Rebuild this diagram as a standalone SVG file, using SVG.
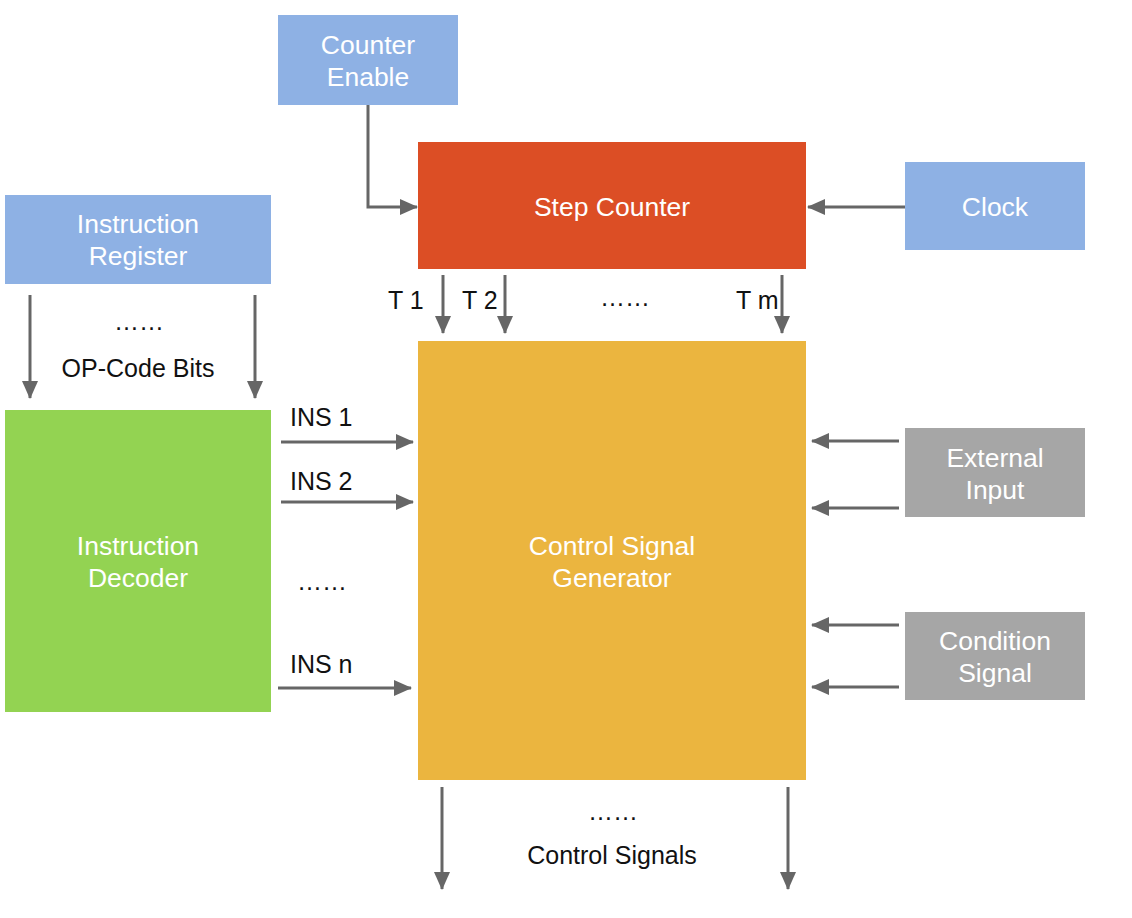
<svg xmlns="http://www.w3.org/2000/svg" width="1132" height="918" viewBox="0 0 1132 918">
<style>
.lbl{font-family:"Liberation Sans",Arial,sans-serif;font-size:26.5px;fill:#fff;text-anchor:middle}
.txt{font-family:"Liberation Sans",Arial,sans-serif;font-size:25px;fill:#111}
.mid{text-anchor:middle}
.ar{stroke:#666;stroke-width:3;fill:none;marker-end:url(#ah)}
.blue{fill:#8EB1E4}
.gray{fill:#A6A6A6}
</style>
<defs>
<marker id="ah" markerUnits="userSpaceOnUse" markerWidth="18" markerHeight="16" refX="17" refY="8" orient="auto">
<path d="M0,0 L18,8 L0,16 Z" fill="#666"/>
</marker>
</defs>
<rect width="1132" height="918" fill="#fff"/>
<g id="counter-enable">
<rect class="blue" x="278" y="15" width="180" height="90"/>
<text class="lbl" x="368" y="54">Counter</text>
<text class="lbl" x="368" y="86">Enable</text>
</g>
<g id="step-counter">
<rect x="418" y="142" width="388" height="127" fill="#DC4E25"/>
<text class="lbl" x="612" y="216">Step Counter</text>
</g>
<g id="clock">
<rect class="blue" x="905" y="162" width="180" height="88"/>
<text class="lbl" x="995" y="216">Clock</text>
</g>
<g id="instruction-register">
<rect class="blue" x="5" y="195" width="266" height="89"/>
<text class="lbl" x="138" y="233">Instruction</text>
<text class="lbl" x="138" y="265">Register</text>
</g>
<g id="instruction-decoder">
<rect x="5" y="410" width="266" height="302" fill="#93D352"/>
<text class="lbl" x="138" y="555">Instruction</text>
<text class="lbl" x="138" y="587">Decoder</text>
</g>
<g id="control-signal-generator">
<rect x="418" y="341" width="388" height="439" fill="#EBB53F"/>
<text class="lbl" x="612" y="555">Control Signal</text>
<text class="lbl" x="612" y="587">Generator</text>
</g>
<g id="external-input">
<rect class="gray" x="905" y="428" width="180" height="89"/>
<text class="lbl" x="995" y="467">External</text>
<text class="lbl" x="995" y="499">Input</text>
</g>
<g id="condition-signal">
<rect class="gray" x="905" y="612" width="180" height="88"/>
<text class="lbl" x="995" y="650">Condition</text>
<text class="lbl" x="995" y="682">Signal</text>
</g>
<g id="connectors">
<path class="ar" d="M368,105 V207 H417"/>
<path class="ar" d="M905,207 H808"/>
<path class="ar" d="M443,275 V333"/>
<path class="ar" d="M505,275 V333"/>
<path class="ar" d="M782,275 V333"/>
<path class="ar" d="M30,295 V398"/>
<path class="ar" d="M255,295 V398"/>
<path class="ar" d="M281,442 H413"/>
<path class="ar" d="M281,502 H413"/>
<path class="ar" d="M278,688 H411"/>
<path class="ar" d="M899,441 H812"/>
<path class="ar" d="M899,508 H812"/>
<path class="ar" d="M899,625 H812"/>
<path class="ar" d="M899,687 H812"/>
<path class="ar" d="M442,787 V889"/>
<path class="ar" d="M788,787 V889"/>
</g>
<g id="labels">
<text class="txt" x="388" y="309">T 1</text>
<text class="txt" x="462" y="309">T 2</text>
<text class="txt mid" x="625" y="306">……</text>
<text class="txt" x="736" y="309">T m</text>
<text class="txt mid" x="139" y="330">……</text>
<text class="txt mid" x="138" y="377">OP-Code Bits</text>
<text class="txt" x="290" y="426">INS 1</text>
<text class="txt" x="290" y="490">INS 2</text>
<text class="txt" x="297" y="590">……</text>
<text class="txt" x="290" y="673">INS n</text>
<text class="txt mid" x="613" y="820">……</text>
<text class="txt mid" x="612" y="864">Control Signals</text>
</g>
</svg>
